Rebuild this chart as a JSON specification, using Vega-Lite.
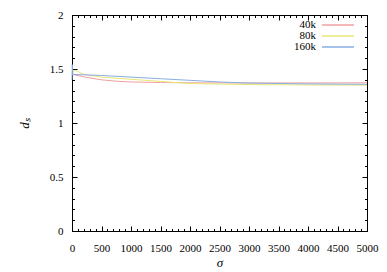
{
  "$schema": "https://vega.github.io/schema/vega-lite/v6.json",
  "width": 295,
  "height": 216,
  "autosize": {"type": "none"},
  "padding": {"left": 72, "top": 15, "right": 20, "bottom": 41},
  "background": "white",
  "config": {
    "view": {"stroke": "black", "strokeWidth": 1},
    "font": "Liberation Serif",
    "legend": {"labelFont": "Liberation Serif"},
    "axis": {"grid": false, "labelFlush": false, "domainColor": "black", "tickColor": "black", "labelFont": "Liberation Serif", "labelFontSize": 11, "labelColor": "black", "titleFont": "Liberation Serif", "titleFontWeight": "normal", "titleColor": "black"}
  },
  "data": {"values": [
    {"sigma": 0, "ds": 1.45, "n": "40k"},
    {"sigma": 250, "ds": 1.422, "n": "40k"},
    {"sigma": 500, "ds": 1.40, "n": "40k"},
    {"sigma": 750, "ds": 1.387, "n": "40k"},
    {"sigma": 1000, "ds": 1.38, "n": "40k"},
    {"sigma": 1500, "ds": 1.375, "n": "40k"},
    {"sigma": 2000, "ds": 1.372, "n": "40k"},
    {"sigma": 3000, "ds": 1.37, "n": "40k"},
    {"sigma": 4000, "ds": 1.371, "n": "40k"},
    {"sigma": 5000, "ds": 1.372, "n": "40k"},
    {"sigma": 0, "ds": 1.46, "n": "80k"},
    {"sigma": 50, "ds": 1.49, "n": "80k"},
    {"sigma": 200, "ds": 1.45, "n": "80k"},
    {"sigma": 500, "ds": 1.425, "n": "80k"},
    {"sigma": 1000, "ds": 1.405, "n": "80k"},
    {"sigma": 1500, "ds": 1.385, "n": "80k"},
    {"sigma": 2000, "ds": 1.365, "n": "80k"},
    {"sigma": 3000, "ds": 1.356, "n": "80k"},
    {"sigma": 4000, "ds": 1.352, "n": "80k"},
    {"sigma": 5000, "ds": 1.35, "n": "80k"},
    {"sigma": 0, "ds": 1.40, "n": "160k"},
    {"sigma": 5, "ds": 1.54, "n": "160k"},
    {"sigma": 15, "ds": 1.45, "n": "160k"},
    {"sigma": 500, "ds": 1.44, "n": "160k"},
    {"sigma": 1000, "ds": 1.425, "n": "160k"},
    {"sigma": 1500, "ds": 1.41, "n": "160k"},
    {"sigma": 2000, "ds": 1.395, "n": "160k"},
    {"sigma": 2500, "ds": 1.38, "n": "160k"},
    {"sigma": 3000, "ds": 1.37, "n": "160k"},
    {"sigma": 4000, "ds": 1.362, "n": "160k"},
    {"sigma": 5000, "ds": 1.358, "n": "160k"}
  ]},
  "layer": [
    {
      "mark": {"type": "line", "strokeWidth": 1},
      "encoding": {
        "x": {"field": "sigma", "type": "quantitative", "scale": {"domain": [0, 5000], "nice": false},
              "axis": {"orient": "bottom", "values": [0,500,1000,1500,2000,2500,3000,3500,4000,4500,5000], "format": "d", "tickSize": -5, "labelPadding": 16, "labelFont": "Liberation Serif", "title": "σ", "titleFont": "Liberation Serif", "titleFontStyle": "italic", "titleFontSize": 13, "titlePadding": 3}},
        "y": {"field": "ds", "type": "quantitative", "scale": {"domain": [0, 2], "nice": false},
              "axis": {"orient": "left", "values": [0, 0.5, 1, 1.5, 2], "format": "~g", "tickSize": -5, "labelPadding": 14, "labelFont": "Liberation Serif", "title": "dₛ", "titleFont": "Liberation Serif", "titleFontStyle": "italic", "titleFontSize": 13, "titlePadding": 18}},
        "color": {"field": "n", "type": "nominal", "sort": ["40k", "80k", "160k"],
                  "scale": {"domain": ["40k", "80k", "160k"], "range": ["#f0a0a0", "#e8e878", "#8aaee0"]},
                  "legend": {"title": null, "orient": "none", "legendX": 260, "legendY": 4, "padding": 0, "symbolType": "M-3.2,0H3.2", "symbolSize": 100, "symbolStrokeWidth": 1.5, "labelAlign": "right", "labelOffset": -28, "labelFontSize": 11, "labelFont": "Liberation Serif", "rowPadding": 0, "symbolOffset": 0}}
      }
    },
    {
      "mark": {"type": "line", "opacity": 0},
      "encoding": {
        "x": {"field": "sigma", "type": "quantitative", "scale": {"domain": [0, 5000], "nice": false}, "axis": {"orient": "top", "values": [0,500,1000,1500,2000,2500,3000,3500,4000,4500,5000], "tickSize": -5, "labels": false, "title": null}},
        "y": {"field": "ds", "type": "quantitative", "scale": {"domain": [0, 2], "nice": false}, "axis": {"orient": "right", "values": [0, 0.5, 1, 1.5, 2], "tickSize": -5, "labels": false, "title": null}}
      }
    },
    {
      "mark": {"type": "line", "opacity": 0},
      "encoding": {
        "x": {"field": "sigma", "type": "quantitative", "scale": {"domain": [0, 5000], "nice": false}, "axis": {"orient": "bottom", "values": [100,200,300,400,600,700,800,900,1100,1200,1300,1400,1600,1700,1800,1900,2100,2200,2300,2400,2600,2700,2800,2900,3100,3200,3300,3400,3600,3700,3800,3900,4100,4200,4300,4400,4600,4700,4800,4900], "tickSize": -2.5, "labels": false, "domain": false, "title": null}},
        "y": {"field": "ds", "type": "quantitative", "scale": {"domain": [0, 2], "nice": false}, "axis": {"orient": "left", "values": [0.1,0.2,0.3,0.4,0.6,0.7,0.8,0.9,1.1,1.2,1.3,1.4,1.6,1.7,1.8,1.9], "tickSize": -2.5, "labels": false, "domain": false, "title": null}}
      }
    },
    {
      "mark": {"type": "line", "opacity": 0},
      "encoding": {
        "x": {"field": "sigma", "type": "quantitative", "scale": {"domain": [0, 5000], "nice": false}, "axis": {"orient": "top", "values": [100,200,300,400,600,700,800,900,1100,1200,1300,1400,1600,1700,1800,1900,2100,2200,2300,2400,2600,2700,2800,2900,3100,3200,3300,3400,3600,3700,3800,3900,4100,4200,4300,4400,4600,4700,4800,4900], "tickSize": -2.5, "labels": false, "domain": false, "title": null}},
        "y": {"field": "ds", "type": "quantitative", "scale": {"domain": [0, 2], "nice": false}, "axis": {"orient": "right", "values": [0.1,0.2,0.3,0.4,0.6,0.7,0.8,0.9,1.1,1.2,1.3,1.4,1.6,1.7,1.8,1.9], "tickSize": -2.5, "labels": false, "domain": false, "title": null}}
      }
    }
  ],
  "resolve": {"scale": {"x": "independent", "y": "independent"}, "axis": {"x": "independent", "y": "independent"}}
}
